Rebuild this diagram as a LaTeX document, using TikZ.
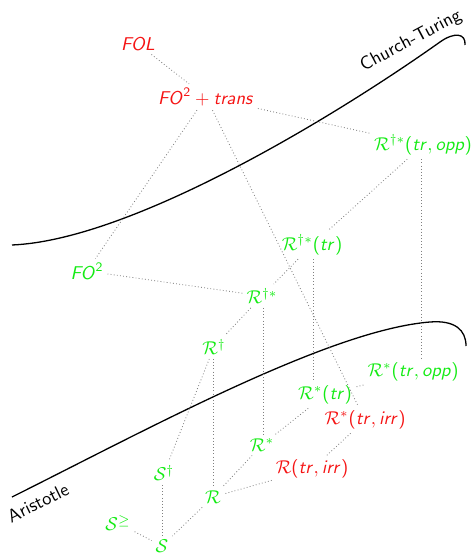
\documentclass[tikz,border=0pt]{standalone}
\usetikzlibrary{calc}
% sans-serif math, slanted sans letters
\DeclareSymbolFont{operators}{OT1}{cmss}{m}{n}
\DeclareMathAlphabet{\mathsfit}{OT1}{cmss}{m}{sl}
\newcommand{\vi}[1]{\mathsfit{#1}}
\newcommand{\cm}{\mathpunct{\mathsf{,}}}
\definecolor{lgreen}{RGB}{20,235,20}
\definecolor{lred}{RGB}{245,20,20}
\begin{document}
\begin{tikzpicture}[x=0.54pt,y=-0.54pt,
  every node/.style={font=\fontsize{10}{12}\selectfont\sffamily, inner sep=2pt},
  good/.style={text=lgreen},
  bad/.style={text=lred},
  link/.style={draw=gray, line width=0.45pt, dash pattern=on 0.45pt off 1.25pt},
  border/.style={draw=black, line width=0.7pt}]
\useasboundingbox (0,0) rectangle (474,556);

% boundary curves
\draw[border] (12,245) .. controls (130,240) and (330,120) .. (440,42)
  .. controls (454,32) and (466,33) .. (465,45);
\node[rotate=28] (ct) at (411,41) {Church-Turing};
\draw[border] (12,497) .. controls (150,428) and (330,330) .. (430,322)
  .. controls (455,320) and (466,330) .. (466,346);
\node[rotate=26] (ar) at (38,503) {Aristotle};

% logics
\node[bad]  (fol)   at (138,44)  {$\vi{FOL}$};
\node[bad]  (fot)   at (206,97)  {$\vi{FO}^{2}+\vi{trans}$};
\node[good] (rdso)  at (423,145) {$\mathcal{R}^{\dagger *}(\vi{tr}\cm\vi{opp})$};
\node[good] (rdst)  at (312,245) {$\mathcal{R}^{\dagger *}(\vi{tr})$};
\node[good] (fo)    at (87,271)  {$\vi{FO}^{2}$};
\node[good] (rds)   at (262,296) {$\mathcal{R}^{\dagger *}$};
\node[good] (rd)    at (214,347) {$\mathcal{R}^{\dagger}$};
\node[good] (rso)   at (413,372) {$\mathcal{R}^{*}(\vi{tr}\cm\vi{opp})$};
\node[good] (rst)   at (325,395) {$\mathcal{R}^{*}(\vi{tr})$};
\node[bad]  (rsi)   at (365,420) {$\mathcal{R}^{*}(\vi{tr}\cm\vi{irr})$};
\node[good] (rs)    at (262,445) {$\mathcal{R}^{*}$};
\node[bad]  (ri)    at (312,469) {$\mathcal{R}(\vi{tr}\cm\vi{irr})$};
\node[good] (sd)    at (164,473) {$\mathcal{S}^{\dagger}$};
\node[good] (r)     at (213,497) {$\mathcal{R}$};
\node[good] (sg)    at (118,523) {$\mathcal{S}^{\geq}$};
\node[good] (s)     at (162,546) {$\mathcal{S}$};

% inclusions
\draw[link] (fol) -- (fot);
\draw[link] (fot) -- (fo);
\draw[link] (fot) -- (rdso);
\draw[link] (fot) -- (rsi);
\draw[link] (rdso) -- (rdst);
\draw[link] (rdso.south -| 421,0) -- (rso.north -| 421,0);
\draw[link] (rdst) -- (rds);
\draw[link] (rdst.south -| 313,0) -- (rst.north -| 313,0);
\draw[link] (fo) -- (rds);
\draw[link] (rds) -- (rd);
\draw[link] (rds.south -| 263,0) -- (rs.north -| 263,0);
\draw[link] (rso) -- (rst);
\draw[link] (rst) -- (rs);
\draw[link] (rsi) -- (ri);
\draw[link] (rd) -- (sd);
\draw[link] (rd.south -| 213,0) -- (r.north -| 213,0);
\draw[link] (rs) -- (r);
\draw[link] (ri) -- (r);
\draw[link] (sd.south -| 162,0) -- (s.north -| 162,0);
\draw[link] (r) -- (s);
\draw[link] (sg) -- (s);
\end{tikzpicture}
\end{document}
